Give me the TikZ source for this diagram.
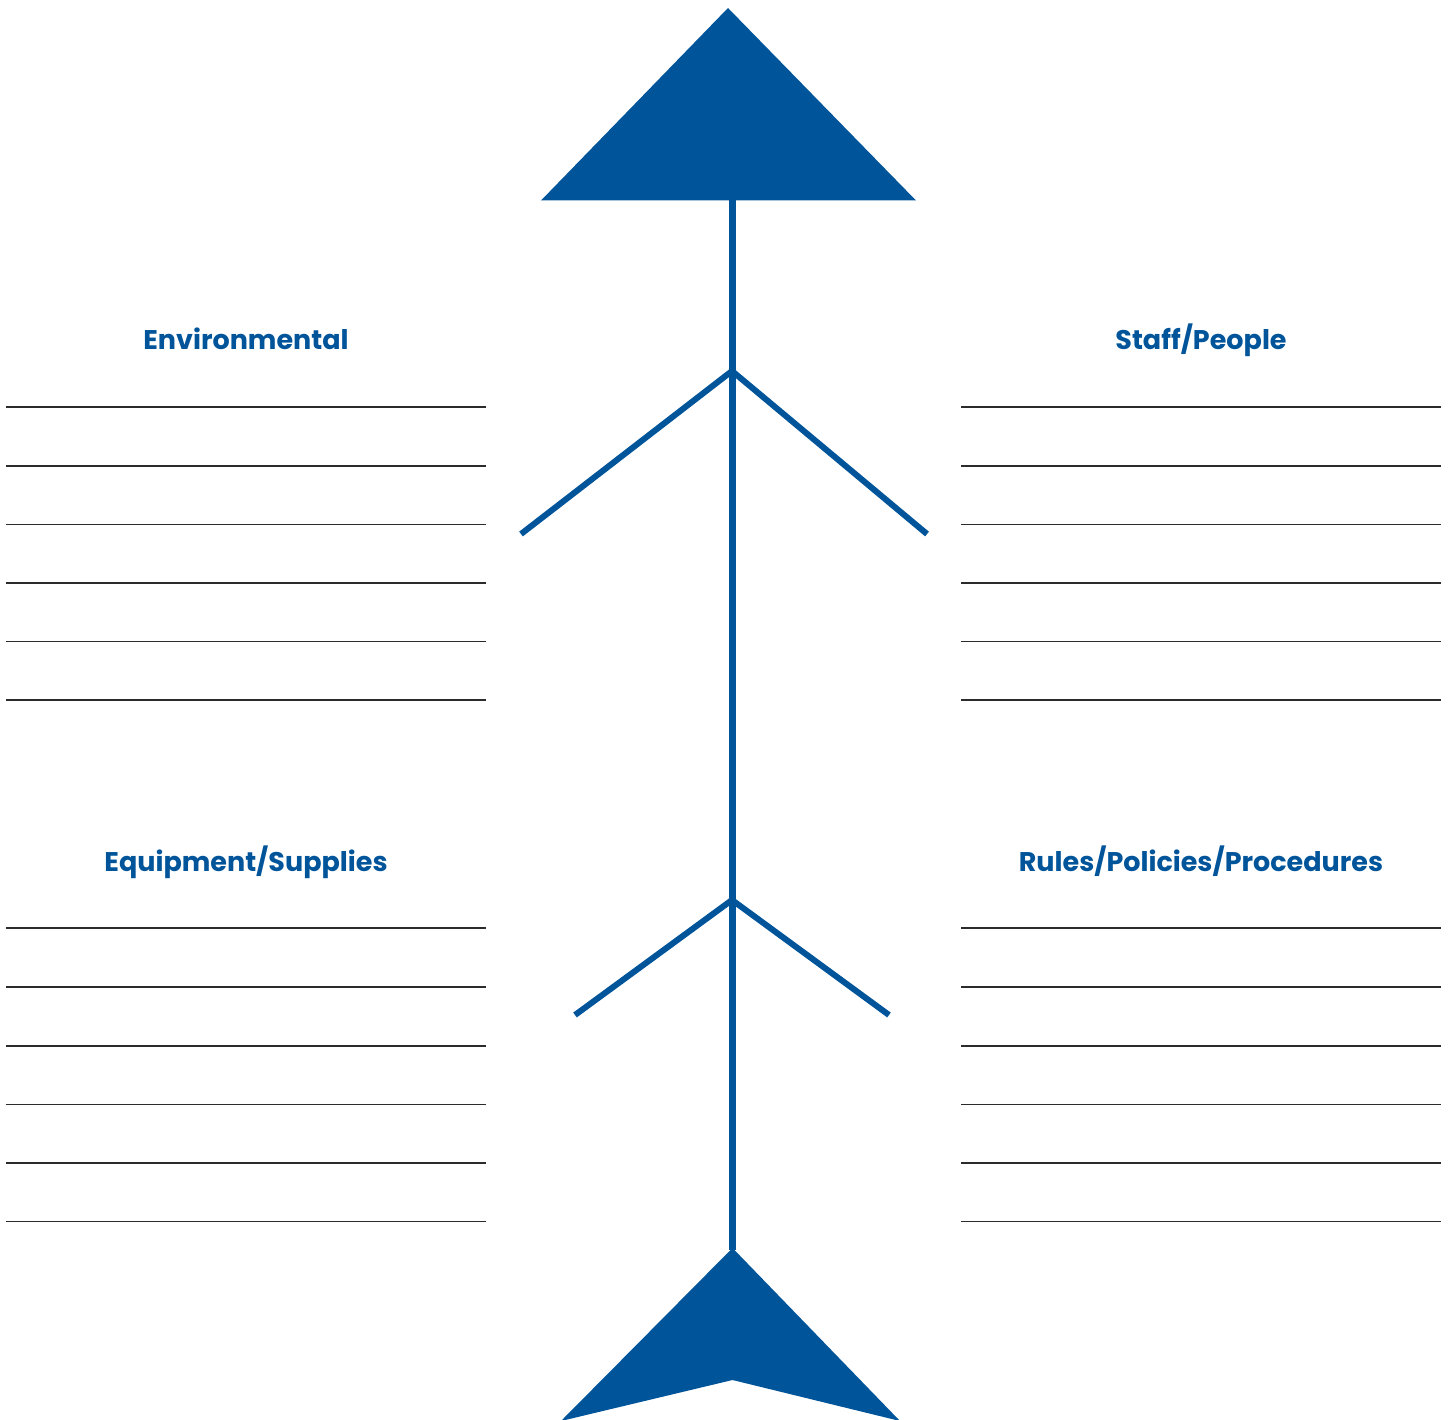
\documentclass[tikz,border=0pt]{standalone}
\usepackage{fontspec}
\setmainfont{Poppins}
\definecolor{fishblue}{HTML}{00549A}
\definecolor{rulegray}{HTML}{2B2B2B}
\begin{document}
\begin{tikzpicture}[x=1pt,y=-1pt,
  label/.style={text=fishblue,font=\fontsize{27}{31}\selectfont\bfseries,anchor=base,inner sep=0pt},
  writeline/.style={draw=rulegray,line width=1.8pt},
  bone/.style={draw=fishblue,line width=6pt},
  spine/.style={draw=fishblue,line width=7pt}]
\useasboundingbox (0,0) rectangle (1450,1420);
% head
\fill[fishblue] (728,8) -- (916,200.5) -- (541,200.5) -- cycle;
% tail
\fill[fishblue] (732.5,1248) -- (900,1421) -- (732.5,1380) -- (561,1421) -- cycle;
% named points
\coordinate (head) at (732,198);
\coordinate (tail) at (732,1250);
\coordinate (j1) at (732,371);
\coordinate (j2) at (732,900);
\coordinate (b1l) at (521,534);
\coordinate (b1r) at (927,534);
\coordinate (b2l) at (575,1015);
\coordinate (b2r) at (889,1015);
\path[spine] (head) -- (tail);
\path[bone] (b1l) -- (j1) -- (b1r);
\path[bone] (b2l) -- (j2) -- (b2r);
% labels
\node[label] (env) at (246,349) {Environmental};
\node[label] (staff) at (1201,349) {Staff/People};
\node[label] (equip) at (246,871) {Equipment/Supplies};
\node[label] (rules) at (1201,871) {Rules/Policies/Procedures};
% writing lines
\foreach \y in {407,466,524.5,583,641.5,700,928,987,1046,1104.5,1163,1221.5}{
  \path[writeline] (6,\y) -- (486,\y);
  \path[writeline] (961,\y) -- (1441,\y);
}
\end{tikzpicture}
\end{document}
